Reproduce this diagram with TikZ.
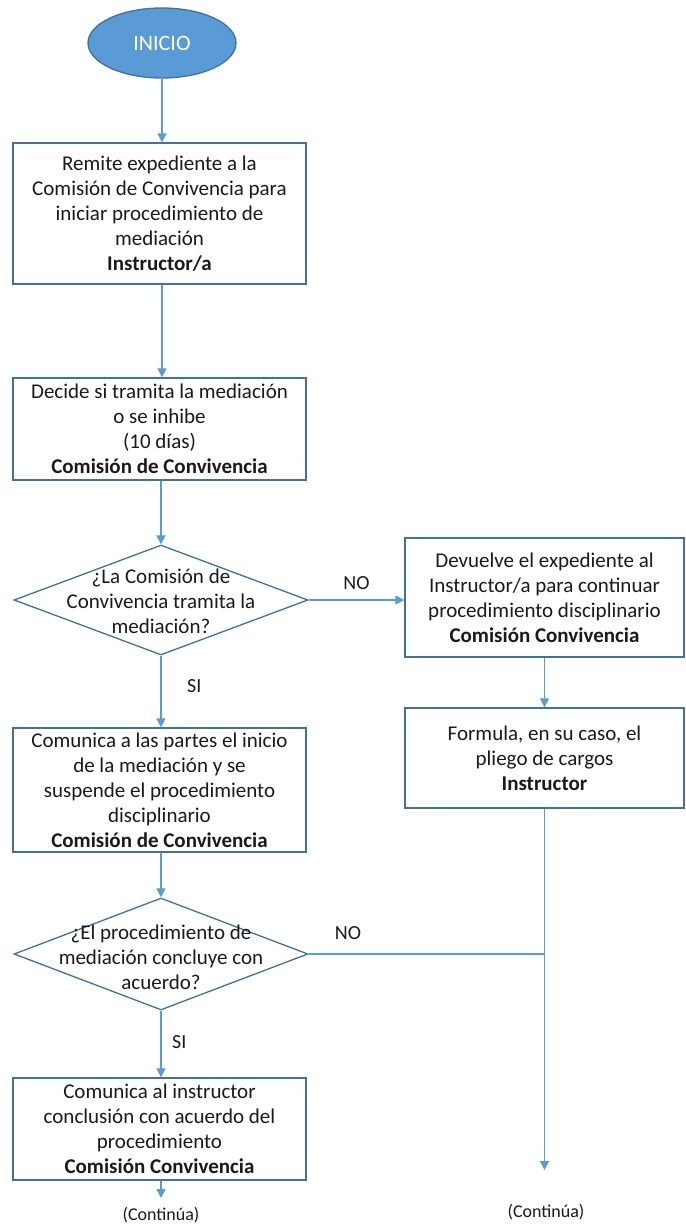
\documentclass[tikz,border=0pt]{standalone}
\usepackage{fontspec}
\setmainfont{Carlito}
\usetikzlibrary{arrows.meta,shapes.geometric}
\definecolor{accent}{HTML}{5B9BD5}
\definecolor{edge}{HTML}{41719C}
\definecolor{ink}{HTML}{1A1A1A}
\begin{document}
\begin{tikzpicture}[x=1pt,y=-1pt,
  every node/.style={text=ink},
  txt/.style={font=\fontsize{21}{25}\selectfont, align=center},
  stepbox/.style={draw=edge, line width=1.3pt, fill=white, rectangle, inner sep=0pt, txt},
  decision/.style={draw=edge, line width=1.3pt, fill=white, diamond, inner sep=0pt},
  flow/.style={draw=accent, line width=1.5pt, -{Triangle[length=9pt,width=9pt]}},
  plain/.style={draw=accent, line width=1.5pt},
  tag/.style={font=\fontsize{20}{24}\selectfont},
  cont/.style={font=\fontsize{18}{21}\selectfont}]
\useasboundingbox (0,0) rectangle (685,1225);
\fill[white] (0,0) rectangle (685,1225);

% start
\node[ellipse, draw=edge, line width=1.3pt, fill=accent, minimum width=148, minimum height=70,
      inner sep=0pt, text=white, font=\fontsize{22}{26}\selectfont] (start) at (162,43) {INICIO};

% left column
\node[stepbox, minimum width=293, minimum height=141] (remite) at (159.5,213.5)
  {Remite expediente a la\\Comisión de Convivencia para\\iniciar procedimiento de\\mediación\\\textbf{Instructor/a}};
\node[stepbox, minimum width=293, minimum height=102] (decide) at (159.5,429)
  {Decide si tramita la mediación\\o se inhibe\\(10 días)\\\textbf{Comisión de Convivencia}};
\node[decision, minimum width=294, minimum height=110] (q1) at (161,600) {};
\node[txt] (q1text) at (161,601) {¿La Comisión de\\Convivencia tramita la\\mediación?};
\node[stepbox, minimum width=293, minimum height=124] (comunica) at (159.5,790)
  {Comunica a las partes el inicio\\de la mediación y se\\suspende el procedimiento\\disciplinario\\\textbf{Comisión de Convivencia}};
\node[decision, minimum width=294, minimum height=112] (q2) at (161,954) {};
\node[txt] (q2text) at (161,957) {¿El procedimiento de\\mediación concluye con\\acuerdo?};
\node[stepbox, minimum width=293, minimum height=102] (concl) at (159.5,1129)
  {Comunica al instructor\\conclusión con acuerdo del\\procedimiento\\\textbf{Comisión Convivencia}};

% right column
\node[stepbox, minimum width=279, minimum height=119] (devuelve) at (544.5,597.5)
  {Devuelve el expediente al\\Instructor/a para continuar\\procedimiento disciplinario\\\textbf{Comisión Convivencia}};
\node[stepbox, minimum width=279, minimum height=100] (formula) at (544.5,758)
  {Formula, en su caso, el\\pliego de cargos\\\textbf{Instructor}};

% loose ends
\coordinate (join) at (formula.south |- q2.east);
\coordinate (endR) at (formula.south |- 0,1170);
\coordinate (endL) at (q2.south |- 0,1198);
\node[cont] (contL) at (161,1215) {(Continúa)};
\node[cont] (contR) at (546,1212) {(Continúa)};

% connectors
\draw[flow] (start.south) -- (remite.north -| start.south);
\draw[flow] (remite.south -| start.south) -- (decide.north -| start.south);
\draw[flow] (decide.south -| q1.north) -- (q1.north);
\draw[flow] (q1.east) -- (devuelve.west |- q1.east) node[tag, midway, above=6pt] (no1) {NO};
\draw[flow] (devuelve.south -| formula.south) -- (formula.north);
\draw[flow] (q1.south) -- (comunica.north -| q1.south) node[tag, pos=0.43, right=22pt] (si1) {SI};
\draw[flow] (comunica.south -| q2.north) -- (q2.north);
\draw[plain] (q2.east) -- (join);
\node[tag] (no2) at (348,933) {NO};
\draw[flow] (q2.south) -- (concl.north -| q2.south) node[tag, pos=0.47, right=7pt] (si2) {SI};
\draw[flow] (formula.south) -- (endR);
\draw[flow] (concl.south -| q2.south) -- (endL);
\end{tikzpicture}
\end{document}
